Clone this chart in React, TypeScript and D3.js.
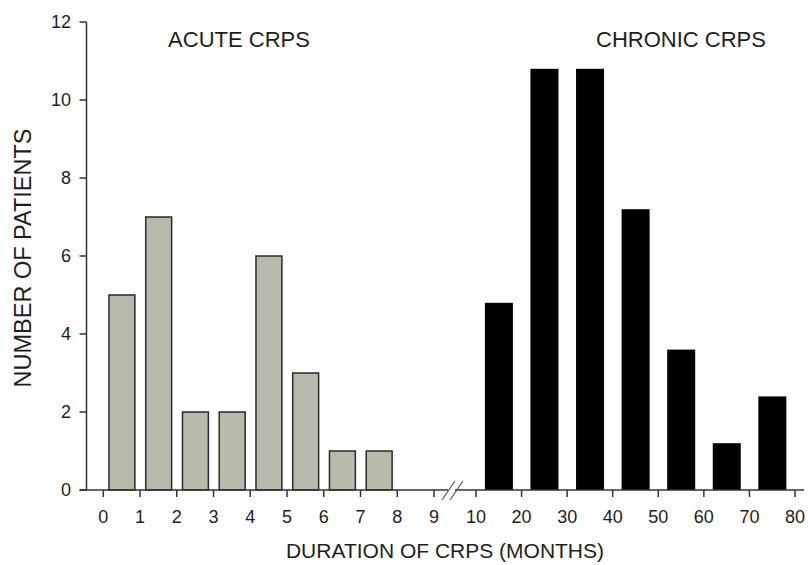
import React from "react";
import * as d3 from "d3";

const acuteMonths = [0, 1, 2, 3, 4, 5, 6, 7];
const acuteCounts = [5, 7, 2, 2, 6, 3, 1, 1];
const chronicMonths = [10, 20, 30, 40, 50, 60, 70];
const chronicCounts = [4.8, 10.8, 10.8, 7.2, 3.6, 1.2, 2.4];
const acuteTicks = [0, 1, 2, 3, 4, 5, 6, 7, 8, 9];
const chronicTicks = [10, 20, 30, 40, 50, 60, 70, 80];
const yTicks = [0, 2, 4, 6, 8, 10, 12];

const W = 808;
const H = 565;
const FONT = "'Liberation Sans', Arial, sans-serif";
const TXT = "#1e1e1e";
const AX = "#333";

export default function App() {
  const xa = d3.scaleLinear().domain([0, 9]).range([103.3, 434]);
  const xc = d3.scaleLinear().domain([10, 80]).range([476, 795]);
  const y = d3.scaleLinear().domain([0, 12]).range([490, 22]);
  const axisX = 86.5;
  const y0 = y(0);

  return (
    <svg
      width={W}
      height={H}
      style={{ position: "absolute", left: 0, top: 0, background: "#fff" }}
      fontFamily={FONT}
    >
      {/* acute bars */}
      {acuteMonths.map((m, i) => (
        <rect
          key={"a" + i}
          x={xa(m + 0.155)}
          y={y(acuteCounts[i])}
          width={xa(m + 0.86) - xa(m + 0.155)}
          height={y0 - y(acuteCounts[i])}
          fill="#b9b9ac"
          stroke="#2a2a2a"
          strokeWidth={1.5}
        />
      ))}
      {/* chronic bars */}
      {chronicMonths.map((m, i) => (
        <rect
          key={"c" + i}
          x={xc(m + 1.95)}
          y={y(chronicCounts[i])}
          width={xc(m + 8.1) - xc(m + 1.95)}
          height={y0 - y(chronicCounts[i])}
          fill="#000"
        />
      ))}

      {/* y axis */}
      <line x1={axisX} x2={axisX} y1={y(12)} y2={y0} stroke={AX} strokeWidth={1.5} />
      {yTicks.map((t) => (
        <g key={"y" + t}>
          <line x1={axisX - 7} x2={axisX} y1={y(t)} y2={y(t)} stroke={AX} strokeWidth={1.5} />
          <text
            x={71}
            y={y(t)}
            dy="0.35em"
            textAnchor="end"
            fontSize={18}
            fill={TXT}
          >
            {t}
          </text>
        </g>
      ))}

      {/* x axis with break */}
      <line x1={axisX - 7} x2={448} y1={y0} y2={y0} stroke={AX} strokeWidth={1.5} />
      <line x1={455} x2={804} y1={y0} y2={y0} stroke={AX} strokeWidth={1.5} />
      <line x1={442} x2={455} y1={500} y2={481} stroke="#555" strokeWidth={1.2} />
      <line x1={450} x2={463} y1={500} y2={481} stroke="#555" strokeWidth={1.2} />
      {acuteTicks.map((t) => (
        <g key={"xa" + t}>
          <line x1={xa(t)} x2={xa(t)} y1={y0} y2={y0 + 7} stroke={AX} strokeWidth={1.5} />
          <text x={xa(t)} y={523} textAnchor="middle" fontSize={18} fill={TXT}>
            {t}
          </text>
        </g>
      ))}
      {chronicTicks.map((t) => (
        <g key={"xc" + t}>
          <line x1={xc(t)} x2={xc(t)} y1={y0} y2={y0 + 7} stroke={AX} strokeWidth={1.5} />
          <text x={xc(t)} y={523} textAnchor="middle" fontSize={18} fill={TXT}>
            {t}
          </text>
        </g>
      ))}

      {/* group titles */}
      <text x={239} y={47} textAnchor="middle" fontSize={22} fill={TXT}>
        ACUTE CRPS
      </text>
      <text x={681} y={47} textAnchor="middle" fontSize={22} fill={TXT}>
        CHRONIC CRPS
      </text>

      {/* axis labels */}
      <text x={445} y={558} textAnchor="middle" fontSize={21} fill={TXT}>
        DURATION OF CRPS (MONTHS)
      </text>
      <text
        transform="translate(31,258) rotate(-90)"
        textAnchor="middle"
        fontSize={23.5}
        fill={TXT}
      >
        NUMBER OF PATIENTS
      </text>
    </svg>
  );
}
